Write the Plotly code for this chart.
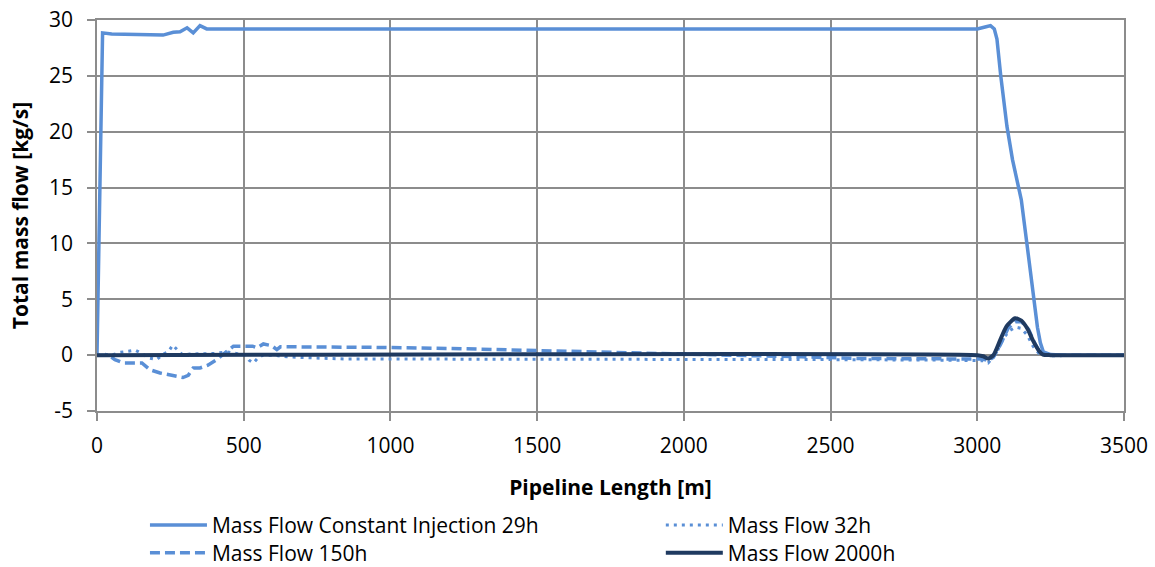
import plotly.graph_objects as go

# ---- data ----
dist_29h = [0, 19, 50, 150, 225, 260, 283, 307, 328, 351, 374, 400, 1000, 2000, 3000,
            3030, 3045, 3058, 3067, 3080, 3091, 3101, 3120, 3150, 3169, 3180, 3190,
            3205, 3215, 3225, 3250, 3300, 3500]
flow_29h = [0, 28.85, 28.75, 28.7, 28.65, 28.9, 28.95, 29.3, 28.85, 29.5, 29.2, 29.2,
            29.2, 29.2, 29.2, 29.4, 29.5, 29.2, 28.3, 25.0, 22.4, 20.5, 17.5, 13.9,
            10.0, 7.6, 5.2, 2.5, 1.1, 0.3, 0.05, 0, 0]

dist_32h = [0, 20, 50, 78, 107, 130, 153, 175, 204, 225, 243, 258, 273, 293, 317, 350,
            400, 442, 480, 505, 518, 533, 550, 566, 600, 647, 737, 852, 1000, 1500,
            2000, 2500, 2900, 3000, 3020, 3037, 3050, 3065, 3089, 3110, 3132, 3150,
            3170, 3190, 3210, 3225, 3250, 3500]
flow_32h = [0, 0.1, 0.0, 0.25, 0.35, 0.45, 0.15, -0.25, -0.4, 0.1, 0.3, 0.9, 0.5, 0.0,
            0.1, 0.1, 0.15, 0.3, 0.1, 0.0, -0.45, -0.7, -0.2, 0.0, 0.0, -0.15, -0.25,
            -0.35, -0.35, -0.35, -0.4, -0.4, -0.45, -0.5, -0.5, -0.7, -0.3, 0.2, 1.5,
            2.2, 2.5, 2.4, 1.8, 0.8, 0.15, 0.0, -0.05, 0]

dist_150h = [0, 40, 61, 90, 153, 180, 215, 260, 293, 311, 328, 351, 378, 408, 442, 465,
             500, 530, 545, 567, 595, 613, 625, 700, 935, 1200, 1373, 1612, 1885, 2000,
             2200, 2400, 2600, 3000, 3020, 3037, 3055, 3080, 3105, 3130, 3150, 3175,
             3195, 3215, 3235, 3500]
flow_150h = [0, 0, -0.4, -0.7, -0.7, -1.3, -1.6, -1.85, -2.0, -1.8, -1.15, -1.15, -0.9,
             -0.4, 0.3, 0.8, 0.8, 0.8, 0.65, 1.0, 0.85, 0.5, 0.75, 0.75, 0.7, 0.6, 0.5,
             0.35, 0.2, 0.15, 0.0, -0.15, -0.3, -0.3, -0.35, -0.5, -0.2, 1.0, 2.4, 3.0,
             3.0, 2.3, 1.1, 0.2, 0.0, 0]

dist_2000h = [0, 3000, 3020, 3037, 3055, 3078, 3100, 3129, 3150, 3170, 3190, 3210, 3224,
              3250, 3500]
flow_2000h = [0, 0, -0.1, -0.3, 0.0, 1.35, 2.6, 3.3, 3.1, 2.4, 1.3, 0.4, 0.05, 0, 0]

names = ["Mass Flow Constant Injection 29h", "Mass Flow 32h",
         "Mass Flow 150h", "Mass Flow 2000h"]

x_ticks = [0, 500, 1000, 1500, 2000, 2500, 3000, 3500]
x_labels = ["0", "500", "1000", "1500", "2000", "2500", "3000", "3500"]
y_ticks = [-5, 0, 5, 10, 15, 20, 25, 30]
y_labels = ["-5", "0", "5", "10", "15", "20", "25", "30"]

BLUE = "#5a8fd6"
NAVY = "#1f3a60"
GRID = "#8c8c8c"
FONT = "Open Sans"
FS = 21
LFS = 21

fig = go.Figure()
fig.add_trace(go.Scatter(x=dist_29h, y=flow_29h, mode="lines", name=names[0],
                         legend="legend",
                         line=dict(color=BLUE, width=3.5)))
fig.add_trace(go.Scatter(x=dist_32h, y=flow_32h, mode="lines", name=names[1],
                         legend="legend2",
                         line=dict(color=BLUE, width=3, dash="3px,5px")))
fig.add_trace(go.Scatter(x=dist_150h, y=flow_150h, mode="lines", name=names[2],
                         legend="legend3",
                         line=dict(color=BLUE, width=3.5, dash="10px,5px")))
fig.add_trace(go.Scatter(x=dist_2000h, y=flow_2000h, mode="lines", name=names[3],
                         legend="legend4",
                         line=dict(color=NAVY, width=4, shape="spline", smoothing=0.6)))


def leg(x, y):
    return dict(x=x, y=y, xanchor="left", yanchor="top", orientation="v",
                itemwidth=57, bgcolor="rgba(0,0,0,0)", borderwidth=0,
                font=dict(family=FONT, size=LFS, color="black"))


fig.update_layout(
    width=1155, height=567,
    margin=dict(l=97, r=31, t=20, b=156, autoexpand=False),
    paper_bgcolor="white", plot_bgcolor="white",
    font=dict(family=FONT, size=FS, color="black"),
    showlegend=True,
    legend=leg(0.0467, -0.240),
    legend2=leg(0.549, -0.240),
    legend3=leg(0.0467, -0.311),
    legend4=leg(0.549, -0.311),
)
fig.update_xaxes(range=[0, 3500], tickvals=x_ticks, ticktext=x_labels, showgrid=True,
                 gridcolor=GRID, gridwidth=1.5, zeroline=False, showline=True,
                 linecolor=GRID, linewidth=1.5, mirror=True, ticks="outside",
                 ticklen=8, tickcolor=GRID, tickwidth=1.5, ticklabelstandoff=7,
                 tickfont=dict(family=FONT, size=FS, color="black"),
                 title=dict(text="<b>Pipeline Length [m]</b>", standoff=22,
                            font=dict(family=FONT, size=FS, color="black")))
fig.update_yaxes(range=[-5, 30], tickvals=y_ticks, ticktext=y_labels, showgrid=True,
                 gridcolor=GRID, gridwidth=1.5, zeroline=False, showline=True,
                 linecolor=GRID, linewidth=1.5, mirror=True, ticks="outside",
                 ticklen=8, tickcolor=GRID, tickwidth=1.5, ticklabelstandoff=10,
                 tickfont=dict(family=FONT, size=FS, color="black"),
                 title=dict(text="<b>Total mass flow [kg/s]</b>", standoff=15,
                            font=dict(family=FONT, size=FS, color="black")))

fig.write_html("out.html")
